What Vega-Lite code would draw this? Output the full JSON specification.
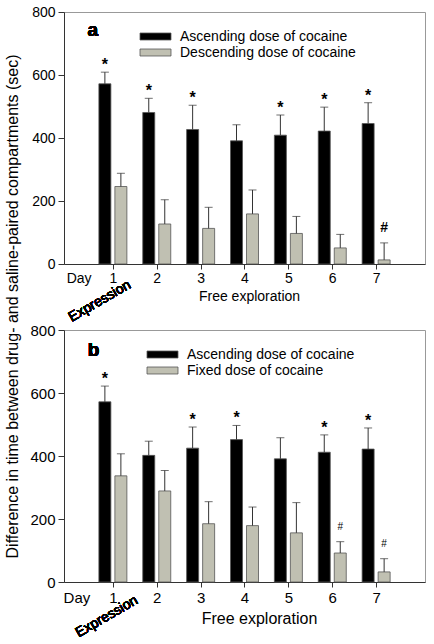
{
  "$schema": "https://vega.github.io/schema/vega-lite/v6.json",
  "padding": {"left": 3, "top": 4, "right": 5, "bottom": 5},
  "bounds": "flush",
  "spacing": 66,
  "config": {
    "font": "Liberation Sans",
    "view": {"stroke": "#999999", "strokeWidth": 1},
    "axis": {"grid": false, "domainColor": "#333333", "tickColor": "#333333", "labelColor": "#000000", "titleColor": "#000000", "titleFontWeight": "normal", "labelFont": "Liberation Sans", "titleFont": "Liberation Sans"},
    "legend": {"orient": "none", "title": null, "padding": 0, "symbolType": "M-2,-0.45H2V0.45H-2Z", "symbolSize": 240, "symbolStrokeColor": "#555555", "symbolStrokeWidth": 0.8, "labelFontSize": 14, "labelFont": "Liberation Sans", "labelColor": "#000000", "labelOffset": 16, "labelLimit": 0, "rowPadding": -2, "symbolOffset": 0}
  },
  "resolve": {"scale": {"color": "independent"}, "legend": {"color": "independent"}},
  "datasets": {
    "bars": [
      {"panel": "a", "series": "Ascending dose of cocaine", "order": 1, "day": 1, "mean": 572, "hi": 609, "sig": "*"},
      {"panel": "a", "series": "Ascending dose of cocaine", "order": 1, "day": 2, "mean": 481, "hi": 526, "sig": "*"},
      {"panel": "a", "series": "Ascending dose of cocaine", "order": 1, "day": 3, "mean": 427, "hi": 504, "sig": "*"},
      {"panel": "a", "series": "Ascending dose of cocaine", "order": 1, "day": 4, "mean": 391, "hi": 442, "sig": ""},
      {"panel": "a", "series": "Ascending dose of cocaine", "order": 1, "day": 5, "mean": 409, "hi": 473, "sig": "*"},
      {"panel": "a", "series": "Ascending dose of cocaine", "order": 1, "day": 6, "mean": 422, "hi": 498, "sig": "*"},
      {"panel": "a", "series": "Ascending dose of cocaine", "order": 1, "day": 7, "mean": 446, "hi": 512, "sig": "*"},
      {"panel": "a", "series": "Descending dose of cocaine", "order": 2, "day": 1, "mean": 246, "hi": 288, "sig": ""},
      {"panel": "a", "series": "Descending dose of cocaine", "order": 2, "day": 2, "mean": 127, "hi": 204, "sig": ""},
      {"panel": "a", "series": "Descending dose of cocaine", "order": 2, "day": 3, "mean": 113, "hi": 180, "sig": ""},
      {"panel": "a", "series": "Descending dose of cocaine", "order": 2, "day": 4, "mean": 159, "hi": 235, "sig": ""},
      {"panel": "a", "series": "Descending dose of cocaine", "order": 2, "day": 5, "mean": 97, "hi": 151, "sig": ""},
      {"panel": "a", "series": "Descending dose of cocaine", "order": 2, "day": 6, "mean": 51, "hi": 94, "sig": ""},
      {"panel": "a", "series": "Descending dose of cocaine", "order": 2, "day": 7, "mean": 13, "hi": 67, "sig": "#"},
      {"panel": "b", "series": "Ascending dose of cocaine", "order": 1, "day": 1, "mean": 572, "hi": 622, "sig": "*"},
      {"panel": "b", "series": "Ascending dose of cocaine", "order": 1, "day": 2, "mean": 402, "hi": 447, "sig": ""},
      {"panel": "b", "series": "Ascending dose of cocaine", "order": 1, "day": 3, "mean": 425, "hi": 492, "sig": "*"},
      {"panel": "b", "series": "Ascending dose of cocaine", "order": 1, "day": 4, "mean": 452, "hi": 497, "sig": "*"},
      {"panel": "b", "series": "Ascending dose of cocaine", "order": 1, "day": 5, "mean": 391, "hi": 458, "sig": ""},
      {"panel": "b", "series": "Ascending dose of cocaine", "order": 1, "day": 6, "mean": 412, "hi": 467, "sig": "*"},
      {"panel": "b", "series": "Ascending dose of cocaine", "order": 1, "day": 7, "mean": 422, "hi": 489, "sig": "*"},
      {"panel": "b", "series": "Fixed dose of cocaine", "order": 2, "day": 1, "mean": 337, "hi": 407, "sig": ""},
      {"panel": "b", "series": "Fixed dose of cocaine", "order": 2, "day": 2, "mean": 289, "hi": 354, "sig": ""},
      {"panel": "b", "series": "Fixed dose of cocaine", "order": 2, "day": 3, "mean": 185, "hi": 255, "sig": ""},
      {"panel": "b", "series": "Fixed dose of cocaine", "order": 2, "day": 4, "mean": 179, "hi": 238, "sig": ""},
      {"panel": "b", "series": "Fixed dose of cocaine", "order": 2, "day": 5, "mean": 156, "hi": 252, "sig": ""},
      {"panel": "b", "series": "Fixed dose of cocaine", "order": 2, "day": 6, "mean": 92, "hi": 128, "sig": "#"},
      {"panel": "b", "series": "Fixed dose of cocaine", "order": 2, "day": 7, "mean": 32, "hi": 74, "sig": "#"}
    ]
  },
  "vconcat": [
    {
      "width": 361,
      "height": 252,
      "data": {"name": "bars"},
      "transform": [{"filter": "datum.panel == 'a'"}],
      "encoding": {
        "x": {"field": "day", "type": "quantitative", "scale": {"domain": [0, 8], "nice": false, "zero": false},
          "axis": {"values": [0.22, 1, 2, 3, 4, 5, 6, 7], "labelExpr": "datum.value < 0.5 ? 'Day' : datum.label", "format": "d", "tickColor": {"condition": {"test": "datum.value < 0.5", "value": "transparent"}, "value": "#333333"}, "tickSize": 5, "labelPadding": 2, "labelFontSize": 14, "labelFlush": false, "labelOverlap": false, "title": "Free exploration", "titleFontSize": 14, "titlePadding": 4, "titleX": 185}},
        "y": {"field": "mean", "type": "quantitative", "scale": {"domain": [0, 800], "nice": false},
          "axis": {"values": [0, 200, 400, 600, 800], "tickSize": 6, "labelPadding": 3, "labelFontSize": 14, "title": "Difference in time between drug- and saline-paired compartments (sec)", "titleFontSize": 16, "titleX": -52, "titleY": 294, "titleAngle": 270, "titleAlign": "center", "titleBaseline": "middle"}}
      },
      "layer": [
        {"transform": [{"filter": "datum.order == 1"}], "mark": {"type": "bar", "width": 12, "xOffset": -8, "stroke": "#555555", "strokeWidth": 0.8},
          "encoding": {"color": {"field": "series", "type": "nominal", "scale": {"domain": ["Ascending dose of cocaine", "Descending dose of cocaine"], "range": ["#000000", "#c0c0b2"]}, "legend": {"legendX": 83, "legendY": 16}}}},
        {"transform": [{"filter": "datum.order == 2"}], "mark": {"type": "bar", "width": 12, "xOffset": 8, "stroke": "#555555", "strokeWidth": 0.8},
          "encoding": {"color": {"field": "series", "type": "nominal"}}},
        {"transform": [{"filter": "datum.order == 1"}], "mark": {"type": "rule", "xOffset": -8, "color": "#333333", "strokeWidth": 1}, "encoding": {"y2": {"field": "hi"}}},
        {"transform": [{"filter": "datum.order == 2"}], "mark": {"type": "rule", "xOffset": 8, "color": "#333333", "strokeWidth": 1}, "encoding": {"y2": {"field": "hi"}}},
        {"transform": [{"filter": "datum.order == 1"}], "mark": {"type": "tick", "orient": "horizontal", "size": 8, "thickness": 1, "xOffset": -8, "color": "#333333"}, "encoding": {"y": {"field": "hi", "type": "quantitative"}}},
        {"transform": [{"filter": "datum.order == 2"}], "mark": {"type": "tick", "orient": "horizontal", "size": 8, "thickness": 1, "xOffset": 8, "color": "#333333"}, "encoding": {"y": {"field": "hi", "type": "quantitative"}}},
        {"transform": [{"filter": "datum.order == 1 && datum.sig != ''"}], "mark": {"type": "text", "xOffset": -8, "dy": -7, "fontSize": 16, "fontWeight": "bold", "baseline": "middle", "color": "#000000"}, "encoding": {"y": {"field": "hi", "type": "quantitative"}, "text": {"field": "sig"}}},
        {"transform": [{"filter": "datum.order == 2 && datum.sig != ''"}], "mark": {"type": "text", "xOffset": 8, "dy": -15, "fontSize": 14, "fontWeight": "bold", "baseline": "middle", "color": "#000000"}, "encoding": {"y": {"field": "hi", "type": "quantitative"}, "text": {"field": "sig"}}},
        {"mark": {"type": "text", "text": "a", "fontSize": 19, "fontWeight": "bold", "baseline": "middle", "align": "center", "color": "#000000"}, "encoding": {"x": {"datum": 0.54}, "y": {"datum": 744}}},
        {"mark": {"type": "text", "text": "Expression", "fontSize": 14, "angle": 330, "baseline": "middle", "align": "center", "color": "#000000"}, "encoding": {"x": {"datum": 0.7}, "y": {"datum": -118}}}
      ]
    },
    {
      "width": 361,
      "height": 252,
      "data": {"name": "bars"},
      "transform": [{"filter": "datum.panel == 'b'"}],
      "encoding": {
        "x": {"field": "day", "type": "quantitative", "scale": {"domain": [0, 8], "nice": false, "zero": false},
          "axis": {"values": [0.17, 1, 2, 3, 4, 5, 6, 7], "labelExpr": "datum.value < 0.5 ? 'Day' : datum.label", "format": "d", "tickColor": {"condition": {"test": "datum.value < 0.5", "value": "transparent"}, "value": "#333333"}, "tickSize": 5, "labelPadding": 3, "labelFontSize": 15, "labelFlush": false, "labelOverlap": false, "title": "Free exploration", "titleFontSize": 16, "titlePadding": 5, "titleX": 195}},
        "y": {"field": "mean", "type": "quantitative", "scale": {"domain": [0, 800], "nice": false},
          "axis": {"values": [0, 200, 400, 600, 800], "tickSize": 6, "labelPadding": 3, "labelFontSize": 15, "title": null}}
      },
      "layer": [
        {"transform": [{"filter": "datum.order == 1"}], "mark": {"type": "bar", "width": 12, "xOffset": -8, "stroke": "#555555", "strokeWidth": 0.8},
          "encoding": {"color": {"field": "series", "type": "nominal", "scale": {"domain": ["Ascending dose of cocaine", "Fixed dose of cocaine"], "range": ["#000000", "#c0c0b2"]}, "legend": {"legendX": 90, "legendY": 16}}}},
        {"transform": [{"filter": "datum.order == 2"}], "mark": {"type": "bar", "width": 12, "xOffset": 8, "stroke": "#555555", "strokeWidth": 0.8},
          "encoding": {"color": {"field": "series", "type": "nominal"}}},
        {"transform": [{"filter": "datum.order == 1"}], "mark": {"type": "rule", "xOffset": -8, "color": "#333333", "strokeWidth": 1}, "encoding": {"y2": {"field": "hi"}}},
        {"transform": [{"filter": "datum.order == 2"}], "mark": {"type": "rule", "xOffset": 8, "color": "#333333", "strokeWidth": 1}, "encoding": {"y2": {"field": "hi"}}},
        {"transform": [{"filter": "datum.order == 1"}], "mark": {"type": "tick", "orient": "horizontal", "size": 8, "thickness": 1, "xOffset": -8, "color": "#333333"}, "encoding": {"y": {"field": "hi", "type": "quantitative"}}},
        {"transform": [{"filter": "datum.order == 2"}], "mark": {"type": "tick", "orient": "horizontal", "size": 8, "thickness": 1, "xOffset": 8, "color": "#333333"}, "encoding": {"y": {"field": "hi", "type": "quantitative"}}},
        {"transform": [{"filter": "datum.order == 1 && datum.sig != ''"}], "mark": {"type": "text", "xOffset": -8, "dy": -7, "fontSize": 16, "fontWeight": "bold", "baseline": "middle", "color": "#000000"}, "encoding": {"y": {"field": "hi", "type": "quantitative"}, "text": {"field": "sig"}}},
        {"transform": [{"filter": "datum.order == 2 && datum.sig != ''"}], "mark": {"type": "text", "xOffset": 8, "dy": -15, "fontSize": 10, "baseline": "middle", "color": "#000000"}, "encoding": {"y": {"field": "hi", "type": "quantitative"}, "text": {"field": "sig"}}},
        {"mark": {"type": "text", "text": "b", "fontSize": 19, "fontWeight": "bold", "baseline": "middle", "align": "center", "color": "#000000"}, "encoding": {"x": {"datum": 0.56}, "y": {"datum": 735}}},
        {"mark": {"type": "text", "text": "Expression", "fontSize": 14, "angle": 330, "baseline": "middle", "align": "center", "color": "#000000"}, "encoding": {"x": {"datum": 0.86}, "y": {"datum": -110}}}
      ]
    }
  ]
}
